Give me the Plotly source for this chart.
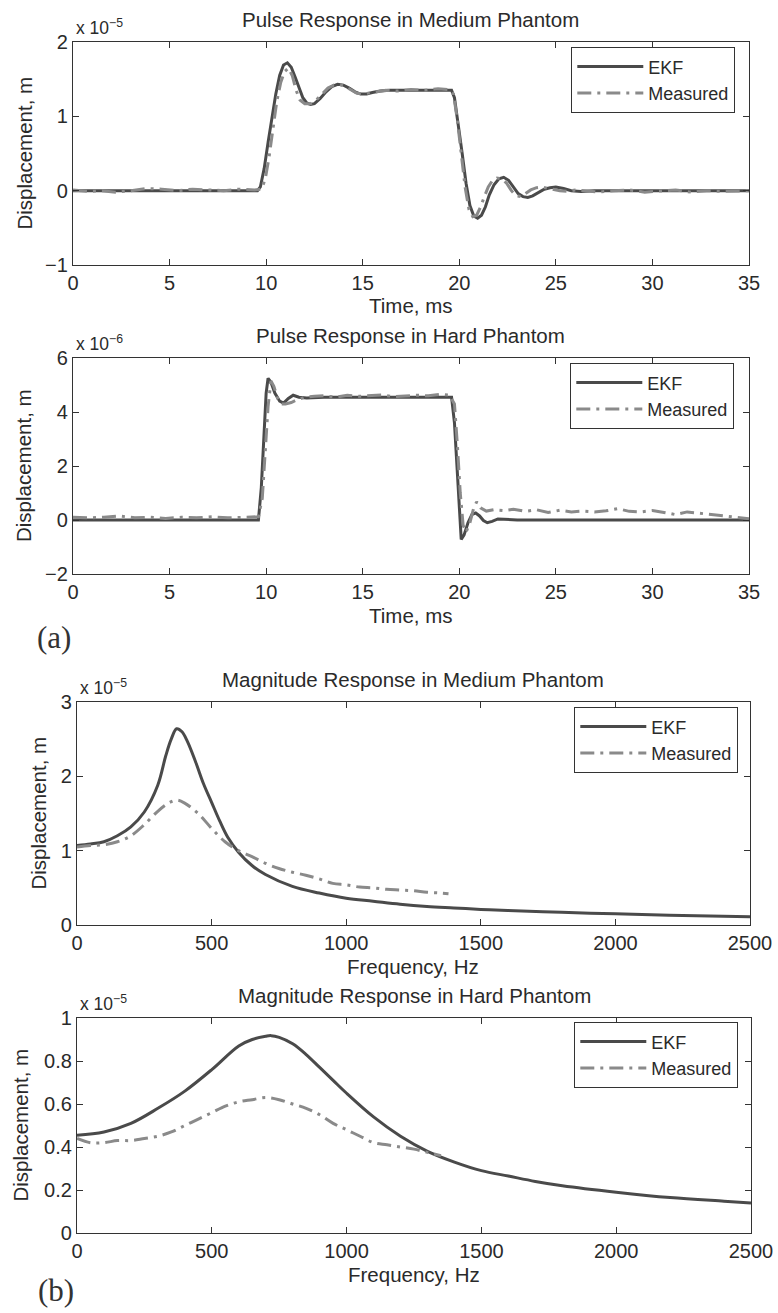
import plotly.graph_objects as go

W, H = 778, 1313

# ---------------- data ----------------
# (a) top: Pulse Response in Medium Phantom  (time ms, displacement x1e-5 m)
t_med_ekf = [0, 9.55, 9.7, 9.9, 10.1, 10.3, 10.5, 10.7, 10.9, 11.1, 11.3, 11.5, 11.7, 11.9, 12.1, 12.3,
             12.5, 12.8, 13.1, 13.4, 13.7, 14.0, 14.3, 14.6, 14.9, 15.2, 15.5, 15.9, 16.4, 17.0, 18.0,
             19.0, 19.6, 19.75, 19.95, 20.15, 20.35, 20.55, 20.75, 20.95, 21.15, 21.35, 21.55, 21.8,
             22.05, 22.3, 22.55, 22.8, 23.05, 23.3, 23.55, 23.8, 24.1, 24.4, 24.7, 25.0, 25.4, 25.8,
             26.3, 27.0, 30.0, 35.0]
d_med_ekf = [0, 0, 0.05, 0.3, 0.65, 1.0, 1.3, 1.55, 1.69, 1.72, 1.66, 1.53, 1.38, 1.25, 1.18, 1.16,
             1.17, 1.24, 1.33, 1.40, 1.43, 1.42, 1.38, 1.33, 1.30, 1.30, 1.32, 1.34, 1.35, 1.35, 1.35,
             1.35, 1.35, 1.25, 0.9, 0.5, 0.1, -0.2, -0.34, -0.37, -0.33, -0.22, -0.06, 0.08,
             0.16, 0.18, 0.14, 0.05, -0.04, -0.08, -0.09, -0.07, -0.02, 0.02, 0.04, 0.05, 0.03, 0.0,
             -0.01, 0.0, 0.0, 0.0]
t_med_meas = [0, 0.8, 1.5, 2.2, 3.0, 3.8, 4.6, 5.4, 6.2, 7.0, 7.8, 8.6, 9.4, 9.75, 9.95, 10.15, 10.35,
              10.55, 10.75, 10.95, 11.15, 11.35, 11.55, 11.75, 12.0, 12.3, 12.6, 12.9, 13.2, 13.5,
              13.8, 14.1, 14.4, 14.7, 15.0, 15.3, 15.7, 16.2, 16.8, 17.5, 18.2, 18.9, 19.5, 19.7,
              19.9, 20.1, 20.3, 20.5, 20.7, 20.9, 21.1, 21.3, 21.5, 21.7, 21.95, 22.2, 22.45, 22.7,
              22.95, 23.2, 23.45, 23.7, 24.0, 24.3, 24.6, 24.9, 25.2, 25.6, 26.0, 26.5, 27.2, 28.0,
              28.8, 29.6, 30.4, 31.2, 32.0, 32.8, 33.6, 34.4, 35.0]
d_med_meas = [0.01, -0.01, 0.0, -0.02, 0.0, 0.03, 0.02, 0.0, 0.02, 0.01, 0.0, 0.02, 0.01, 0.02, 0.15,
              0.45, 0.85, 1.2, 1.45, 1.6, 1.65, 1.55, 1.35, 1.22, 1.17, 1.17, 1.22, 1.3, 1.38, 1.42,
              1.43, 1.40, 1.35, 1.31, 1.30, 1.31, 1.33, 1.35, 1.34, 1.36, 1.35, 1.37, 1.36, 1.30,
              0.95, 0.5, 0.05, -0.25, -0.35, -0.33, -0.22, -0.08, 0.05, 0.13, 0.17, 0.16, 0.10, 0.0,
              -0.07, -0.08, -0.04, 0.01, 0.04, 0.05, 0.03, 0.01, 0.0, -0.01, 0.01, 0.0, -0.02, 0.0,
              0.01, -0.02, 0.0, 0.01, -0.02, 0.0, -0.01, 0.0, 0.0]

# (a) bottom: Pulse Response in Hard Phantom  (time ms, displacement x1e-6 m)
t_hard_ekf = [0, 9.6, 9.75, 9.9, 10.0, 10.1, 10.25, 10.45, 10.7, 10.9, 11.15, 11.4, 11.7, 12.1,
              13.0, 15.0, 17.0, 19.0, 19.6, 19.75, 19.9, 20.0, 20.1, 20.25, 20.45, 20.65, 20.85,
              21.05, 21.25, 21.45, 21.7, 22.0, 22.4, 23.0, 27.0, 31.0, 35.0]
d_hard_ekf = [0, 0, 1.2, 3.4, 4.7, 5.25, 5.1, 4.7, 4.4, 4.33, 4.5, 4.62, 4.55, 4.52,
              4.55, 4.55, 4.55, 4.55, 4.55, 3.6, 1.6, 0.2, -0.72, -0.55, -0.1, 0.2, 0.26,
              0.15, -0.02, -0.1, -0.05, 0.04, 0.02, 0.0, 0.0, 0.0, 0.0]
t_hard_meas = [0, 0.8, 1.6, 2.4, 3.2, 4.0, 4.8, 5.6, 6.4, 7.2, 8.0, 8.8, 9.6, 9.8, 9.95, 10.1,
               10.25, 10.4, 10.6, 10.8, 11.0, 11.3, 11.6, 12.0, 12.5, 13.0, 13.6, 14.2, 14.8, 15.4,
               16.0, 16.6, 17.2, 17.8, 18.4, 19.0, 19.5, 19.75, 19.9, 20.05, 20.2, 20.35, 20.55,
               20.75, 20.9, 21.1, 21.4, 21.8, 22.3, 22.8, 23.4, 24.0, 24.6, 25.2, 25.8, 26.4, 27.0,
               27.6, 28.2, 28.8, 29.4, 30.0, 30.6, 31.2, 31.8, 32.4, 33.0, 33.6, 34.2, 35.0]
d_hard_meas = [0.1, 0.08, 0.1, 0.15, 0.08, 0.1, 0.06, 0.1, 0.08, 0.12, 0.08, 0.1, 0.12, 0.8, 2.5,
               4.2, 5.15, 4.95, 4.5, 4.3, 4.3, 4.35, 4.45, 4.55, 4.58, 4.6, 4.55, 4.62, 4.58, 4.6,
               4.63, 4.57, 4.6, 4.62, 4.6, 4.65, 4.62, 4.3, 2.8, 1.0, -0.2, -0.45, -0.1, 0.45,
               0.67, 0.45, 0.33, 0.38, 0.35, 0.4, 0.32, 0.38, 0.28, 0.36, 0.3, 0.33, 0.3, 0.34,
               0.42, 0.32, 0.3, 0.35, 0.28, 0.2, 0.3, 0.25, 0.2, 0.15, 0.1, 0.05]

# (b) top: Magnitude Response in Medium Phantom  (frequency Hz, displacement x1e-5 m)
f_med_ekf = [0, 50, 100, 150, 200, 250, 300, 330, 350, 370, 390, 410, 440, 470, 500, 530, 560,
             600, 650, 700, 800, 900, 1000, 1100, 1200, 1300, 1400, 1500, 1600, 1800, 2000,
             2200, 2500]
m_med_ekf = [1.07, 1.09, 1.12, 1.20, 1.32, 1.52, 1.88, 2.28, 2.50, 2.64, 2.60, 2.47, 2.20, 1.90,
             1.65, 1.40, 1.18, 0.98, 0.80, 0.68, 0.52, 0.43, 0.36, 0.32, 0.28, 0.25, 0.23, 0.21,
             0.195, 0.17, 0.15, 0.13, 0.11]
f_med_meas = [0, 50, 100, 150, 200, 250, 300, 340, 370, 400, 450, 500, 550, 600, 650, 700, 750,
              800, 850, 900, 950, 1000, 1050, 1100, 1150, 1200, 1250, 1300, 1350, 1380]
m_med_meas = [1.05, 1.07, 1.08, 1.12, 1.2, 1.35, 1.53, 1.64, 1.68, 1.64, 1.50, 1.30, 1.12, 1.0,
              0.92, 0.83, 0.76, 0.71, 0.67, 0.62, 0.56, 0.54, 0.51, 0.5, 0.48, 0.47, 0.46, 0.44,
              0.43, 0.42]

# (b) bottom: Magnitude Response in Hard Phantom  (frequency Hz, displacement x1e-5 m)
f_hard_ekf = [0, 100, 200, 300, 400, 500, 600, 650, 700, 720, 750, 800, 850, 900, 950, 1000,
              1100, 1200, 1300, 1400, 1500, 1600, 1700, 1800, 2000, 2200, 2400, 2500]
m_hard_ekf = [0.455, 0.47, 0.51, 0.58, 0.66, 0.76, 0.87, 0.90, 0.915, 0.918, 0.91, 0.88, 0.83,
              0.77, 0.71, 0.65, 0.54, 0.45, 0.38, 0.33, 0.29, 0.265, 0.24, 0.22, 0.19, 0.165,
              0.148, 0.14]
f_hard_meas = [0, 50, 100, 150, 200, 250, 300, 350, 400, 450, 500, 550, 600, 650, 700, 750, 800,
               850, 900, 950, 1000, 1050, 1100, 1150, 1200, 1250, 1300, 1350]
m_hard_meas = [0.44, 0.42, 0.42, 0.43, 0.43, 0.44, 0.45, 0.47, 0.5, 0.53, 0.56, 0.59, 0.61, 0.62,
               0.63, 0.62, 0.6, 0.58, 0.55, 0.51, 0.48, 0.45, 0.42, 0.41, 0.40, 0.39, 0.375, 0.36]

series_names = ["EKF", "Measured"]
panel_titles = ["Pulse Response in Medium Phantom", "Pulse Response in Hard Phantom",
                "Magnitude Response in Medium Phantom", "Magnitude Response in Hard Phantom"]
x_labels = ["Time, ms", "Time, ms", "Frequency, Hz", "Frequency, Hz"]
y_label = "Displacement, m"
exponents = ["−5", "−6", "−5", "−5"]

# ---------------- styling / layout ----------------
FONT = "Liberation Sans, Arial, Helvetica, sans-serif"
TXT = "#2a2a2a"
AX = "#333333"
EKF_COLOR, MEAS_COLOR = "#4a4a4a", "#8a8a8a"
MEAS_DASH = "14px,6px,3px,6px"
line_shapes = ["linear", "linear", "spline", "spline"]


def px(x):
    return x / W


def py(y):
    return 1 - y / H


# pixel boxes: (left, right, top, bottom)
boxes = [(73, 749, 42, 265), (73, 749, 358, 574), (77, 750, 702, 925), (77, 751, 1018, 1233)]
xranges = [[0, 35], [0, 35], [0, 2500], [0, 2500]]
xdticks = [5, 5, 500, 500]
yranges = [[-1, 2], [-2, 6], [0, 3], [0, 1]]
ydticks = [1, 2, 1, 0.2]
ylabel_x = [24, 24, 38, 20]
legend_boxes = [(735, 47), (734, 363), (738, 707), (738, 1022)]

data = [
    (t_med_ekf, d_med_ekf, t_med_meas, d_med_meas),
    (t_hard_ekf, d_hard_ekf, t_hard_meas, d_hard_meas),
    (f_med_ekf, m_med_ekf, f_med_meas, m_med_meas),
    (f_hard_ekf, m_hard_ekf, f_hard_meas, m_hard_meas),
]

fig = go.Figure()
layout = dict(
    width=W, height=H, margin=dict(l=0, r=0, t=0, b=0, pad=0, autoexpand=False),
    paper_bgcolor="white", plot_bgcolor="white",
    font=dict(family=FONT, color=TXT, size=20),
    showlegend=True,
)
annotations = []

for i, (box, (xe, ye, xm, ym)) in enumerate(zip(boxes, data)):
    k = "" if i == 0 else str(i + 1)
    lg = "legend" + k
    shp = line_shapes[i]
    fig.add_trace(go.Scatter(x=xe, y=ye, mode="lines", name=series_names[0],
                             line=dict(color=EKF_COLOR, width=3, shape=shp),
                             xaxis="x" + k, yaxis="y" + k, legend=lg))
    fig.add_trace(go.Scatter(x=xm, y=ym, mode="lines", name=series_names[1],
                             line=dict(color=MEAS_COLOR, width=3, dash=MEAS_DASH, shape=shp),
                             xaxis="x" + k, yaxis="y" + k, legend=lg))
    l, r, t, b = box
    common = dict(showline=True, linecolor=AX, linewidth=1.3, mirror="ticks", ticks="inside",
                  ticklen=6, tickcolor=AX, tickwidth=1.2, showgrid=False, zeroline=False,
                  automargin=False, tickfont=dict(family=FONT, size=20, color=TXT))
    layout["xaxis" + k] = dict(domain=[px(l), px(r)], range=xranges[i], dtick=xdticks[i], tick0=0,
                               anchor="y" + k, **common)
    layout["yaxis" + k] = dict(domain=[py(b), py(t)], range=yranges[i], dtick=ydticks[i], tick0=0,
                               anchor="x" + k, **common)
    lx, ly = legend_boxes[i]
    layout[lg] = dict(x=px(lx), y=py(ly), xanchor="right", yanchor="top", xref="paper",
                      yref="paper", bgcolor="white", bordercolor=AX, borderwidth=1.3,
                      font=dict(family=FONT, size=18, color=TXT), itemwidth=66,
                      tracegroupgap=0)
    cx = (l + r) / 2
    annotations.append(dict(text=panel_titles[i], x=px(cx), y=py(t - 23), xref="paper",
                            yref="paper", showarrow=False, xanchor="center", yanchor="middle",
                            font=dict(size=20.5)))
    annotations.append(dict(text=x_labels[i], x=px(cx), y=py(b + 41), xref="paper", yref="paper",
                            showarrow=False, xanchor="center", yanchor="middle",
                            font=dict(size=20.5)))
    annotations.append(dict(text=y_label, x=px(ylabel_x[i]), y=py((t + b) / 2), xref="paper",
                            yref="paper", showarrow=False, xanchor="center", yanchor="middle",
                            textangle=-90, font=dict(size=20.5)))
    annotations.append(dict(text="x 10<sup>" + exponents[i] + "</sup>", x=px(l + 1),
                            y=py(t - 15), xref="paper", yref="paper", showarrow=False,
                            xanchor="left", yanchor="middle", font=dict(size=17.5)))

annotations.append(dict(text="(a)", x=px(54), y=py(638), xref="paper", yref="paper",
                        showarrow=False, xanchor="center", yanchor="middle",
                        font=dict(family="Liberation Serif, Times New Roman, serif", size=31,
                                  color="#333")))
annotations.append(dict(text="(b)", x=px(56), y=py(1290), xref="paper", yref="paper",
                        showarrow=False, xanchor="center", yanchor="middle",
                        font=dict(family="Liberation Serif, Times New Roman, serif", size=31,
                                  color="#333")))
layout["annotations"] = annotations
fig.update_layout(**layout)

fig.write_html("out.html",
               config={"displayModeBar": False},
               post_script="document.body.style.margin='0px';"
                           "document.body.style.padding='0px';"
                           "document.body.style.overflow='hidden';")
